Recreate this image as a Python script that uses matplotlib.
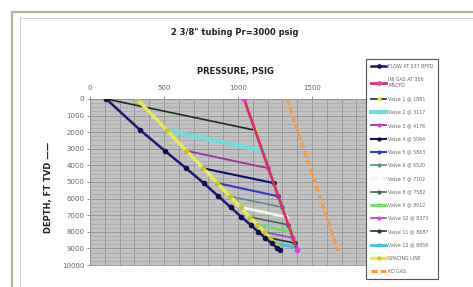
import matplotlib
matplotlib.use("Agg")
import matplotlib.pyplot as plt
from matplotlib.patches import Rectangle
import numpy as np

W, H = 473, 287

# ---------------- data ----------------
valve_depths = [1881, 3117, 4176, 5064, 5863, 6520, 7102, 7582, 8012, 8373, 8687, 8956]
valve_labels = ["Valve 1 @ 1881", "Valve 2 @ 3117", "Valve 3 @ 4176", "Valve 4 @ 5064",
                "Valve 5 @ 5863", "Valve 6 @ 6520", "Valve 7 @ 7102", "Valve 8 @ 7582",
                "Valve 9 @ 8012", "Valve 10 @ 8373", "Valve 11 @ 8687", "Valve 12 @ 8956"]

flow_depth = [0, 1881, 3117, 4176, 5064, 5863, 6520, 7102, 7582, 8012, 8373, 8687, 8956, 9100]
flow_press = [110, 340, 505, 650, 768, 868, 950, 1022, 1085, 1138, 1185, 1228, 1262, 1285]

inj_depth = [0, 9100]
inj_press = [1041, 1400]

ko_depth = [0, 9150]
ko_press = [1331, 1676]

spacing_depth = [0, 1881, 3117, 4176, 5064, 5863, 6520, 7102, 7582, 8012, 8373, 8687, 8956]
spacing_press = [317, 519, 651, 765, 860, 946, 1017, 1079, 1131, 1177, 1215, 1249, 1278]

# valve line start (on spacing line / surface) and end (on injection gas line)
valve_start_press = [110, 519, 651, 765, 860, 946, 1017, 1079, 1131, 1177, 1215, 1249]
valve_start_depth = [0, 1881, 3117, 4176, 5064, 5863, 6520, 7102, 7582, 8012, 8373, 8687]
valve_end_press = [1115, 1164, 1206, 1241, 1273, 1299, 1322, 1340, 1358, 1372, 1384, 1398]

valve_colors = ["#1f2a1f", "#6fdede", "#993399", "#101070", "#3535c8", "#5a8c8c",
                "#e6fbe6", "#3d6b55", "#6fdc6f", "#a040d0", "#203a20", "#3fbfee"]
valve_marker_colors = ["#e8e840", "#6fdede", "#dd33dd", "#101030", "#3535c8", "#5a8c8c",
                       "#ffffff", "#3d6b55", "#6fdc6f", "#ee44ee", "#203a20", "#3fbfee"]
valve_lw = [1.2, 3.0, 1.3, 1.5, 1.5, 1.2, 2.0, 1.2, 2.0, 1.2, 1.2, 2.0]

# ---------------- figure ----------------
fig = plt.figure(figsize=(W / 100, H / 100), dpi=100)
fig.patch.set_facecolor("white")

# frames
fig.patches.append(Rectangle((12 / W, -0.1), 1.2, 1 - 12 / H + 0.1, transform=fig.transFigure,
                             fill=False, edgecolor="#b4b49c", lw=1.6, zorder=0))
fig.patches.append(Rectangle((20 / W, -0.1), 1.2, 1 - 18 / H + 0.1, transform=fig.transFigure,
                             fill=False, edgecolor="#d0d0d0", lw=0.8, zorder=0))

left, right, top, bottom = 90, 386, 99, 265
ax = fig.add_axes([left / W, 1 - bottom / H, (right - left) / W, (bottom - top) / H])
ax.set_facecolor("#c2c2c2")
ax.set_xlim(0, 2000)
ax.set_ylim(10000, 0)

ax.xaxis.tick_top()
ax.set_xticks([0, 500, 1000, 1500, 2000])
ax.set_xticklabels(["0", "500", "1000", "1500", ""])
ax.set_yticks(np.arange(0, 10001, 1000))
ax.set_xticks(np.arange(0, 2001, 100), minor=True)
ax.set_yticks(np.arange(0, 10001, 250), minor=True)
ax.tick_params(axis="both", which="major", labelsize=5, colors="#666666", length=2, width=0.5, pad=2)
ax.tick_params(axis="x", which="major", pad=4)
ax.tick_params(which="minor", length=0)
ax.grid(which="minor", axis="x", color="#929292", lw=0.6)
ax.grid(which="minor", axis="y", color="#a8a8a8", lw=0.5)
ax.grid(which="major", color="#929292", lw=0.6)
ax.set_axisbelow(True)
for s in ax.spines.values():
    s.set_color("#909090")
    s.set_linewidth(0.6)

handles = []
h, = ax.plot(flow_press, flow_depth, color="#1a1a70", lw=1.8, marker="o", ms=3,
             mfc="#101050", mec="#101050", label="FLOW AT 537 BFPD", zorder=5)
handles.append(h)
h, = ax.plot(inj_press, inj_depth, color="#d8305e", lw=2.0, marker="o", ms=3,
             mfc="#ee33ee", mec="#ee33ee", label="INJ GAS AT 356\nMSCFD", zorder=4)
handles.append(h)
for i in range(len(valve_depths)):
    h, = ax.plot([valve_start_press[i], valve_end_press[i]],
                 [valve_start_depth[i], valve_depths[i]],
                 color=valve_colors[i], lw=valve_lw[i], marker="o", ms=2.5,
                 mfc=valve_marker_colors[i], mec=valve_marker_colors[i],
                 label=valve_labels[i], zorder=3)
    handles.append(h)
h, = ax.plot(spacing_press, spacing_depth, color="#eaea55", lw=2.5, marker="o", ms=2.5,
             mfc="#c8c820", mec="#c8c820", label="SPACING LINE", zorder=4)
handles.append(h)
h, = ax.plot(ko_press, ko_depth, color="#ff9a3c", lw=2.2, ls=(0, (2, 1)),
             label="KO GAS", zorder=3)
handles.append(h)

# texts
fig.text(235 / W, 1 - 33 / H, "2 3/8\" tubing Pr=3000 psig", ha="center", va="center",
         fontsize=6, fontweight="bold", color="#222222")
fig.text(235 / W, 1 - 72 / H, "PRESSURE, PSIG", ha="center", va="center",
         fontsize=6, fontweight="bold", color="#222222")
fig.text(48 / W, 1 - 187 / H, "DEPTH, FT TVD ——", ha="center", va="center",
         rotation=90, fontsize=6, fontweight="bold", color="#222222")

leg = fig.legend(handles=handles, loc="upper left", bbox_to_anchor=(364 / W, 1 - 57 / H),
                 fontsize=3.4, frameon=True, fancybox=False, framealpha=1,
                 edgecolor="#555555", labelspacing=1.75, handlelength=3.2,
                 handletextpad=0.4, borderpad=1.0, markerscale=0.8)
leg.get_frame().set_linewidth(0.8)
for t in leg.get_texts():
    t.set_color("#666666")

fig.savefig("out.png", dpi=100)
